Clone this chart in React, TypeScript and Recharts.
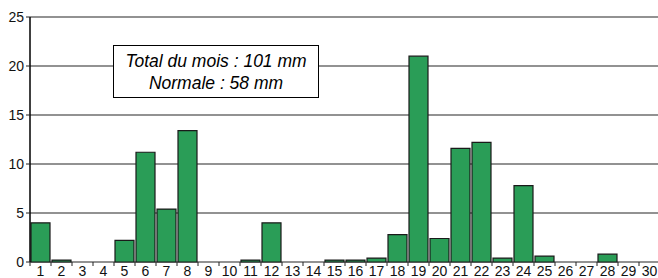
import { BarChart, Bar, XAxis, YAxis, CartesianGrid } from "recharts";

const days = Array.from({ length: 30 }, (_, i) => String(i + 1));
const rain = [
  4.0, 0.2, 0, 0, 2.2, 11.2, 5.4, 13.4, 0, 0,
  0.2, 4.0, 0, 0, 0.2, 0.2, 0.4, 2.8, 21.0, 2.4,
  11.6, 12.2, 0.4, 7.8, 0.6, 0, 0, 0.8, 0, 0,
];
const yTicks = [0, 5, 10, 15, 20, 25];
const boxLines = ["Total du mois : 101 mm", "Normale : 58 mm"];

const data = days.map((d, i) => ({ day: d, mm: rain[i] }));

const W = 660;
const H = 278;
const LEFT = 30;
const XH = 16;
const PLOT_BOTTOM = H - XH;
const BAND = (W - LEFT) / days.length;
const FONT = "'Liberation Sans', Arial, sans-serif";

const DayTick = (props: any) => {
  const { x, payload } = props;
  return (
    <g>
      <line x1={x - BAND / 2} x2={x - BAND / 2} y1={PLOT_BOTTOM} y2={PLOT_BOTTOM + 4} stroke="#222" strokeWidth={1} />
      <text x={x} y={H - 2.5} textAnchor="middle" fontSize={14} fontFamily={FONT} fill="#111">
        {payload.value}
      </text>
    </g>
  );
};

export default function App() {
  return (
    <div style={{ position: "fixed", left: 0, top: 0, width: 658, height: H, overflow: "hidden", background: "#fff" }}>
      <BarChart
        width={W}
        height={H}
        data={data}
        margin={{ top: 17, right: 0, left: 0, bottom: 0 }}
        barCategoryGap={1}
        style={{ overflow: "visible" }}
      >
        <CartesianGrid vertical={false} stroke="#6e6e6e" strokeWidth={1.5} />
        <XAxis dataKey="day" interval={0} height={XH} axisLine={false} tickLine={false} tick={<DayTick />} />
        <YAxis
          width={LEFT}
          domain={[0, 25]}
          ticks={yTicks}
          axisLine={{ stroke: "#000", strokeWidth: 1.5 }}
          tickLine={{ stroke: "#222" }}
          tickSize={4}
          tickMargin={2}
          tick={{ fontSize: 14, fontFamily: FONT, fill: "#111" }}
        />
        <Bar dataKey="mm" fill="#2A9D57" stroke="#1a1a1a" strokeWidth={1.2} isAnimationActive={false} />
      </BarChart>
      <div
        style={{
          position: "absolute",
          left: 113,
          top: 45,
          width: 204,
          height: 51,
          border: "1.5px solid #000",
          background: "#fff",
          fontFamily: FONT,
          fontStyle: "italic",
          fontSize: 17.5,
          lineHeight: "22px",
          textAlign: "center",
          display: "flex",
          flexDirection: "column",
          justifyContent: "center",
          color: "#000",
        }}
      >
        {boxLines.map((l) => (
          <div key={l}>{l}</div>
        ))}
      </div>
    </div>
  );
}
